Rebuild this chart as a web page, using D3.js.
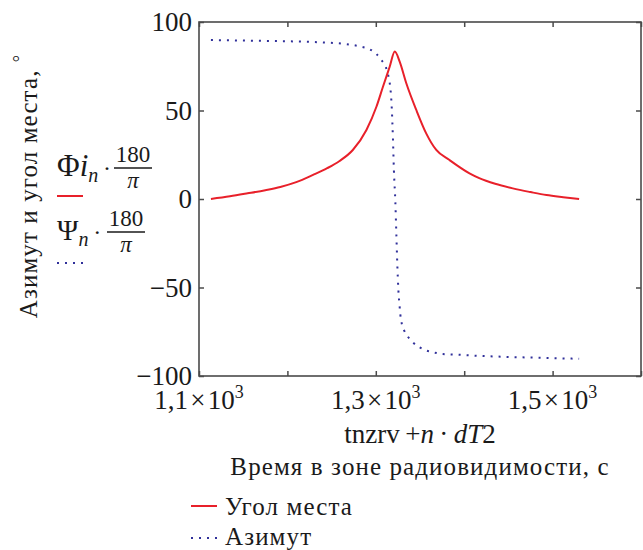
<!DOCTYPE html>
<html>
<head>
<meta charset="utf-8">
<script src="https://cdn.jsdelivr.net/npm/d3@7"></script>
</head>
<body style="margin:0">
<svg id="chart" width="643" height="550"></svg>
<script>
// elevation (угол места), degrees vs time, s
var elevT   = [1113.5, 1135, 1155, 1175, 1192, 1210, 1229, 1245, 1259, 1274, 1289.4, 1300.7, 1308.1,
               1315.7, 1321.5, 1327, 1334.5, 1345.8, 1357, 1368.4, 1383.4, 1406, 1417, 1435, 1455,
               1475, 1493, 1512, 1530];
var elevVal = [0, 1.5, 3.2, 5, 6.8, 9.5, 13.6, 17.4, 21.5, 27.7, 39, 52.1, 63.4,
               74.7, 83.3, 77.6, 65.4, 50.3, 37.1, 27.7, 22, 14.5, 11.8, 8.6, 6,
               3.9, 2.2, 1, 0];

// azimuth (азимут), degrees vs time, s
var azT   = [1113.5, 1154, 1191.5, 1228.7, 1267, 1283.7, 1293, 1300.7, 1306.3, 1311.2, 1313.8,
             1315.7, 1316.8, 1318, 1319.4, 1320.5, 1322.1, 1323.2, 1324.4, 1325.5, 1327, 1327.8,
             1329.2, 1331.8, 1336.3, 1342, 1349.5, 1357.8, 1366.5, 1375.9, 1393.6, 1411.7,
             1454.6, 1493, 1530];
var azVal = [89.8, 89.5, 89.2, 88.7, 87.5, 86, 84.6, 82, 78.5, 74.7, 70.4,
             65.7, 61, 52, 34, 16, -1.5, -19, -38, -51, -61, -65.5,
             -70, -74, -77.8, -81, -83.8, -85.7, -86.8, -87.6, -88, -88.5,
             -89.3, -89.8, -90.3];

var xTicks = [1100, 1200, 1300, 1400, 1500, 1600];
var xLabels = [[1100, "1,1"], [1300, "1,3"], [1500, "1,5"]];
var yTicks = [-100, -50, 0, 50, 100];

var svg = d3.select("#chart");
var plotL = 199, plotT = 22, plotR = 641, plotB = 376;
var FONT = "'Liberation Serif'";
var ink = "#1a1a1a";

var x = d3.scaleLinear().domain([1100, 1600]).range([plotL, plotR]);
var y = d3.scaleLinear().domain([-100, 100]).range([plotB, plotT]);

var red = "#e8202a", blue = "#30309a", frame = "#4a4a4a";

function label(px, py, size) {
  return svg.append("text")
      .attr("x", px).attr("y", py)
      .style("font-family", FONT)
      .attr("font-size", size)
      .attr("fill", ink);
}

// curves
var line = d3.line()
    .x(d => x(d[0]))
    .y(d => y(d[1]))
    .curve(d3.curveMonotoneX);

svg.append("path")
    .datum(d3.zip(azT, azVal))
    .attr("d", line)
    .attr("fill", "none")
    .attr("stroke", blue)
    .attr("stroke-width", 2)
    .attr("stroke-dasharray", "2,6");

svg.append("path")
    .datum(d3.zip(elevT, elevVal))
    .attr("d", line)
    .attr("fill", "none")
    .attr("stroke", red)
    .attr("stroke-width", 2);

// axes: ticks inward on all four sides
function styleAxis(g) {
  g.selectAll("line").attr("stroke", frame).attr("stroke-width", 1.5);
  g.select(".domain").remove();
}
svg.append("g")
    .attr("transform", "translate(0," + plotB + ")")
    .call(d3.axisBottom(x).tickValues(xTicks).tickSizeInner(-5).tickSizeOuter(0).tickFormat(""))
    .call(styleAxis);
svg.append("g")
    .attr("transform", "translate(0," + plotT + ")")
    .call(d3.axisTop(x).tickValues(xTicks).tickSizeInner(-5).tickSizeOuter(0).tickFormat(""))
    .call(styleAxis);
svg.append("g")
    .attr("transform", "translate(" + plotR + ",0)")
    .call(d3.axisRight(y).tickValues(yTicks).tickSizeInner(-5).tickSizeOuter(0).tickFormat(""))
    .call(styleAxis);
var yAxis = svg.append("g")
    .attr("transform", "translate(" + plotL + ",0)")
    .call(d3.axisLeft(y).tickValues(yTicks).tickSizeInner(-5).tickSizeOuter(0).tickPadding(7)
      .tickFormat(d => d < 0 ? "\u2212" + Math.abs(d) : d))
    .call(styleAxis)
    .attr("font-family", null)
    .attr("font-size", 27);
yAxis.selectAll("text")
    .style("font-family", FONT)
    .attr("fill", ink);

svg.append("rect")
    .attr("x", plotL).attr("y", plotT)
    .attr("width", plotR - plotL).attr("height", plotB - plotT)
    .attr("fill", "none")
    .attr("stroke", frame)
    .attr("stroke-width", 1.6);

// x tick labels with 10^3
xLabels.forEach(function (l) {
  var t = label(x(l[0]), 409, 27).attr("text-anchor", "middle");
  t.append("tspan").text(l[1] + "\u200a\u00d7\u200a10");
  t.append("tspan").attr("dy", -11).attr("font-size", 18).text("3");
});

// x axis titles
var xt = label(420, 443, 27).attr("text-anchor", "middle");
xt.append("tspan").text("tnzrv\u2009+");
xt.append("tspan").attr("font-style", "italic").text("n");
xt.append("tspan").text("\u2009\u00b7\u2009");
xt.append("tspan").attr("font-style", "italic").text("dT");
xt.append("tspan").text("2");

label(420, 475, 25)
    .attr("text-anchor", "middle")
    .attr("letter-spacing", 1.1)
    .text("Время в зоне радиовидимости, с");

// y axis title
var yt = label(0, 0, 25)
    .attr("transform", "translate(37,186) rotate(-90)")
    .attr("text-anchor", "middle")
    .attr("letter-spacing", 1.1);
yt.append("tspan").text("Азимут и угол места, ");
yt.append("tspan").attr("dy", -11).attr("font-size", 18).text("\u00b0");

// legend beside the y axis title
function mathLegend(sym, italicPart, yBase, fracX, symSize) {
  var t = label(57, yBase, symSize);
  t.append("tspan").text(sym);
  if (italicPart) t.append("tspan").attr("font-style", "italic").text(italicPart);
  t.append("tspan").attr("font-style", "italic").attr("font-size", 20).attr("dy", 6).text("n");
  t.append("tspan").attr("dy", -6).attr("font-size", 24).text("\u2009\u00b7");
  label(fracX, yBase - 14, 23).attr("text-anchor", "middle").text("180");
  svg.append("line")
      .attr("x1", fracX - 19).attr("x2", fracX + 19)
      .attr("y1", yBase - 8).attr("y2", yBase - 8)
      .attr("stroke", ink).attr("stroke-width", 1.6);
  label(fracX, yBase + 12, 23).attr("text-anchor", "middle")
      .attr("font-style", "italic").text("\u03c0");
}
mathLegend("\u03a6", "i", 176, 133, 31);
mathLegend("\u03a8", null, 240, 126, 29);

svg.append("line").attr("x1", 57).attr("x2", 83).attr("y1", 196).attr("y2", 196)
    .attr("stroke", red).attr("stroke-width", 2);
svg.append("line").attr("x1", 57).attr("x2", 83).attr("y1", 263).attr("y2", 263)
    .attr("stroke", blue).attr("stroke-width", 2).attr("stroke-dasharray", "2,6");

// bottom legend
svg.append("line").attr("x1", 191).attr("x2", 217).attr("y1", 506).attr("y2", 506)
    .attr("stroke", red).attr("stroke-width", 2);
label(225, 515, 25).attr("letter-spacing", 1.1).text("Угол места");
svg.append("line").attr("x1", 191).attr("x2", 217).attr("y1", 538).attr("y2", 538)
    .attr("stroke", blue).attr("stroke-width", 2).attr("stroke-dasharray", "2,6");
label(225, 545, 25).attr("letter-spacing", 1.1).text("Азимут");
</script>
</body>
</html>
